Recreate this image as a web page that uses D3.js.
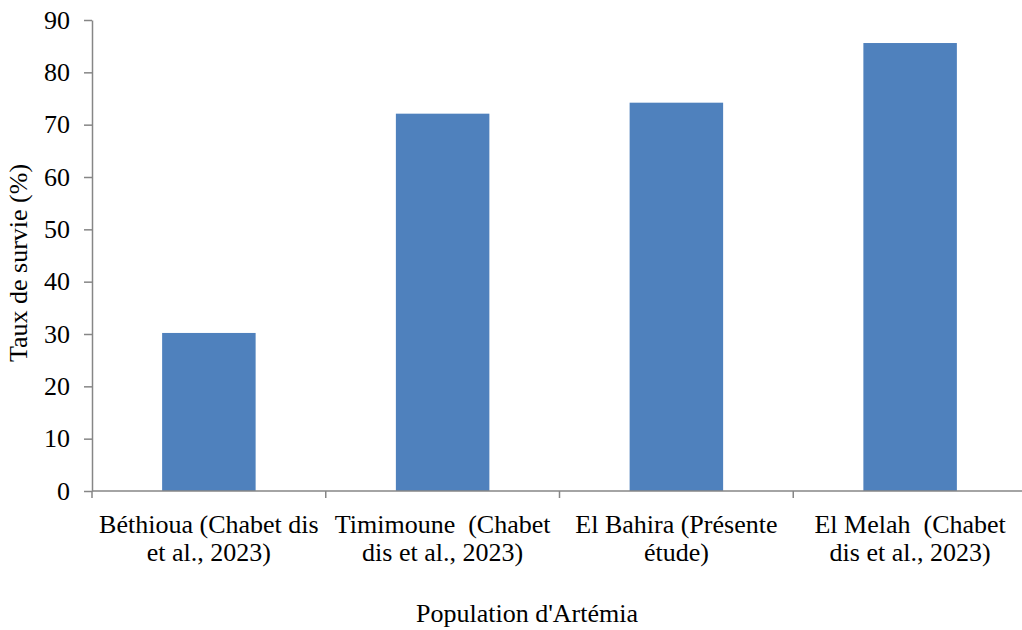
<!DOCTYPE html>
<html>
<head>
<meta charset="utf-8">
<script src="https://cdn.jsdelivr.net/npm/d3@7"></script>
<style>
  html, body { margin: 0; padding: 0; background: #fff; }
  svg { display: block; }
  text { font-family: "Liberation Serif", "Times New Roman", serif; fill: #000; }
</style>
</head>
<body>
<svg id="chart" width="1022" height="630"></svg>
<script>
// Survival rate (%) per Artemia population
const populations = [
  "Béthioua (Chabet dis et al., 2023)",
  "Timimoune  (Chabet dis et al., 2023)",
  "El Bahira (Présente étude)",
  "El Melah  (Chabet dis et al., 2023)"
];
const labelLines = [
  ["Béthioua (Chabet dis", "et al., 2023)"],
  ["Timimoune  (Chabet", "dis et al., 2023)"],
  ["El Bahira (Présente", "étude)"],
  ["El Melah  (Chabet", "dis et al., 2023)"]
];
const survival = [30.2, 72.1, 74.2, 85.6];
const yTicks = [0, 10, 20, 30, 40, 50, 60, 70, 80, 90];

const axisColor = "#868686";
const barColor = "#4f81bd";
const fontSize = 26;

const svg = d3.select("#chart");
const plot = { left: 92, right: 1027, top: 20, bottom: 491 };

const x = d3.scaleBand()
  .domain(populations)
  .range([plot.left, plot.right])
  .paddingInner(0.6)
  .paddingOuter(0.3);

const y = d3.scaleLinear()
  .domain([0, 90])
  .range([plot.bottom, plot.top]);

// Bars
svg.append("g")
  .selectAll("rect")
  .data(populations)
  .join("rect")
  .attr("x", d => x(d))
  .attr("y", (d, i) => y(survival[i]))
  .attr("width", x.bandwidth())
  .attr("height", (d, i) => y(0) - y(survival[i]))
  .attr("fill", barColor);

// Y axis
const yAxis = svg.append("g")
  .attr("transform", `translate(${plot.left},0)`)
  .call(d3.axisLeft(y).tickValues(yTicks).tickSize(8).tickPadding(14).tickSizeOuter(0));
yAxis.select(".domain").attr("stroke", axisColor).attr("stroke-width", 1.5);
yAxis.selectAll(".tick line").attr("stroke", axisColor).attr("stroke-width", 1.5);
yAxis.selectAll(".tick text")
  .attr("font-family", "Liberation Serif, Times New Roman, serif")
  .attr("font-size", fontSize)
  .attr("fill", "#000");

// X axis: line with ticks at category boundaries
const step = x.step();
const xAxis = svg.append("g");
xAxis.append("line")
  .attr("x1", plot.left).attr("x2", plot.right)
  .attr("y1", y(0)).attr("y2", y(0))
  .attr("stroke", axisColor).attr("stroke-width", 1.5);
xAxis.selectAll("line.tick")
  .data(d3.range(populations.length + 1))
  .join("line")
  .attr("class", "tick")
  .attr("x1", i => plot.left + i * step)
  .attr("x2", i => plot.left + i * step)
  .attr("y1", y(0)).attr("y2", y(0) + 7)
  .attr("stroke", axisColor).attr("stroke-width", 1.5);

// Category labels (two lines each)
const labels = svg.append("g")
  .selectAll("text")
  .data(populations)
  .join("text")
  .attr("text-anchor", "middle")
  .attr("font-size", fontSize)
  .style("white-space", "pre")
  .attr("xml:space", "preserve");
labels.each(function (d, i) {
  const cx = x(d) + x.bandwidth() / 2;
  d3.select(this).selectAll("tspan")
    .data(labelLines[i])
    .join("tspan")
    .attr("x", cx)
    .attr("y", (t, j) => 533 + j * 28)
    .text(t => t);
});

// Axis titles
svg.append("text")
  .attr("x", 527)
  .attr("y", 622)
  .attr("text-anchor", "middle")
  .attr("font-size", fontSize)
  .text("Population d'Artémia");

svg.append("text")
  .attr("transform", "translate(27,263) rotate(-90)")
  .attr("text-anchor", "middle")
  .attr("font-size", fontSize)
  .text("Taux de survie (%)");
</script>
</body>
</html>
